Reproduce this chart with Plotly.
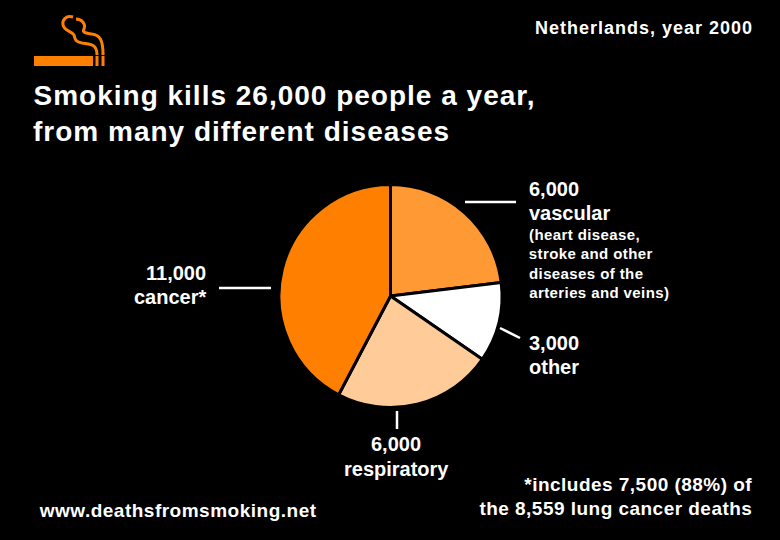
import json
import plotly.graph_objects as go

categories = ["vascular", "other", "respiratory", "cancer"]
deaths = [6000, 3000, 6000, 11000]
slice_colors = ["#FF9933", "#FFFFFF", "#FFCC99", "#FF8000"]

W, H = 780, 540
FONT = "Liberation Sans"
ORANGE = "#FF8000"

def fx(px): return px / W
def fy(py): return 1 - py / H

fig = go.Figure(go.Pie(
    labels=categories, values=deaths, sort=False, direction="clockwise", rotation=0,
    marker=dict(colors=slice_colors, line=dict(color="#000000", width=3)),
    textinfo="none", hoverinfo="label+value", showlegend=False,
    domain=dict(x=[fx(279), fx(502)], y=[fy(407.5), fy(184.5)]),
))

# (text, x, y centre, size, anchor, letter spacing)
texts = [
    ("Netherlands, year 2000", 753, 28, 18, "right", 1.0),
    ("Smoking kills 26,000 people a year,", 33, 95, 28, "left", 1.0),
    ("from many different diseases", 33, 131, 28, "left", 1.0),
    ("6,000", 529, 189, 20, "left", 0),
    ("vascular", 529, 213, 20, "left", 0),
    ("(heart disease,", 529, 234, 15, "left", 0.4),
    ("stroke and other", 529, 254, 15, "left", 0.4),
    ("diseases of the", 529, 273, 15, "left", 0.4),
    ("arteries and veins)", 529, 292, 15, "left", 0.4),
    ("11,000", 206, 273, 20, "right", 0),
    ("cancer*", 206, 297, 20, "right", 0),
    ("3,000", 529, 343, 20, "left", 0),
    ("other", 529, 367, 20, "left", 0),
    ("6,000", 396, 444, 20, "center", 0),
    ("respiratory", 396, 469, 20, "center", 0),
    ("www.deathsfromsmoking.net", 39, 510, 19, "left", 0.5),
    ("*includes 7,500 (88%) of", 753, 484, 19, "right", 0.47),
    ("the 8,559 lung cancer deaths", 753, 508, 19, "right", 0.47),
]
for t, x, y, s, anc, ls in texts:
    shift = {"left": 1, "right": -1, "center": 0}[anc] * ls * len(t) / 2
    fig.add_annotation(text="<b>%s</b>" % t, x=fx(x), y=fy(y), xref="paper", yref="paper", xanchor=anc,
                       yanchor="middle", xshift=shift, showarrow=False, borderpad=0, borderwidth=0,
                       font=dict(family=FONT, size=s, color="#FFFFFF"))

leaders = [(465, 202, 516, 202), (219, 288, 271, 288), (500, 328, 520, 338), (397, 411, 397, 429)]
shapes = [dict(type="line", xref="paper", yref="paper", x0=fx(a), y0=fy(b), x1=fx(c), y1=fy(d),
               line=dict(color="#FFFFFF", width=2.5)) for a, b, c, d in leaders]

# logo
for a, b in ((34, 93), (95.5, 98.5), (101.5, 104.5)):
    shapes.append(dict(type="rect", xref="paper", yref="paper", x0=fx(a), x1=fx(b), y0=fy(66), y1=fy(56),
                       fillcolor=ORANGE, line_width=0))
def path(pts):
    s = "M %.4f %.4f" % (fx(pts[0][0]), fy(pts[0][1]))
    for i in range(1, len(pts)-2, 3):
        s += " C " + " ".join("%.4f %.4f" % (fx(p[0]), fy(p[1])) for p in pts[i:i+3])
    return s
smoke1 = [(73, 17), (66, 15), (62, 20), (63, 25), (64, 31), (72, 31), (74, 35), (75, 40), (76, 42), (82, 43), (90, 44), (97, 44), (97, 55)]
smoke2 = [(76, 19), (82, 19), (86, 24), (84, 29), (82, 33), (86, 33), (92, 34), (100, 35), (103, 40), (103, 55)]
for pts in (smoke1, smoke2):
    shapes.append(dict(type="path", xref="paper", yref="paper", path=path(pts), line=dict(color=ORANGE, width=3)))

fig.update_layout(width=W, height=H, margin=dict(l=0, r=0, t=0, b=0),
                  paper_bgcolor="#000000", plot_bgcolor="#000000", shapes=shapes,
                  font=dict(family=FONT))

spacings = json.dumps([row[5] for row in texts])
post = """
document.body.style.margin='0';document.body.style.background='#000';
var sp=%s;
document.querySelectorAll('.annotation-text').forEach(function(el,i){el.style.letterSpacing=sp[i]+'px';});
""" % spacings
fig.write_html("out.html", config=dict(displayModeBar=False), post_script=post)
